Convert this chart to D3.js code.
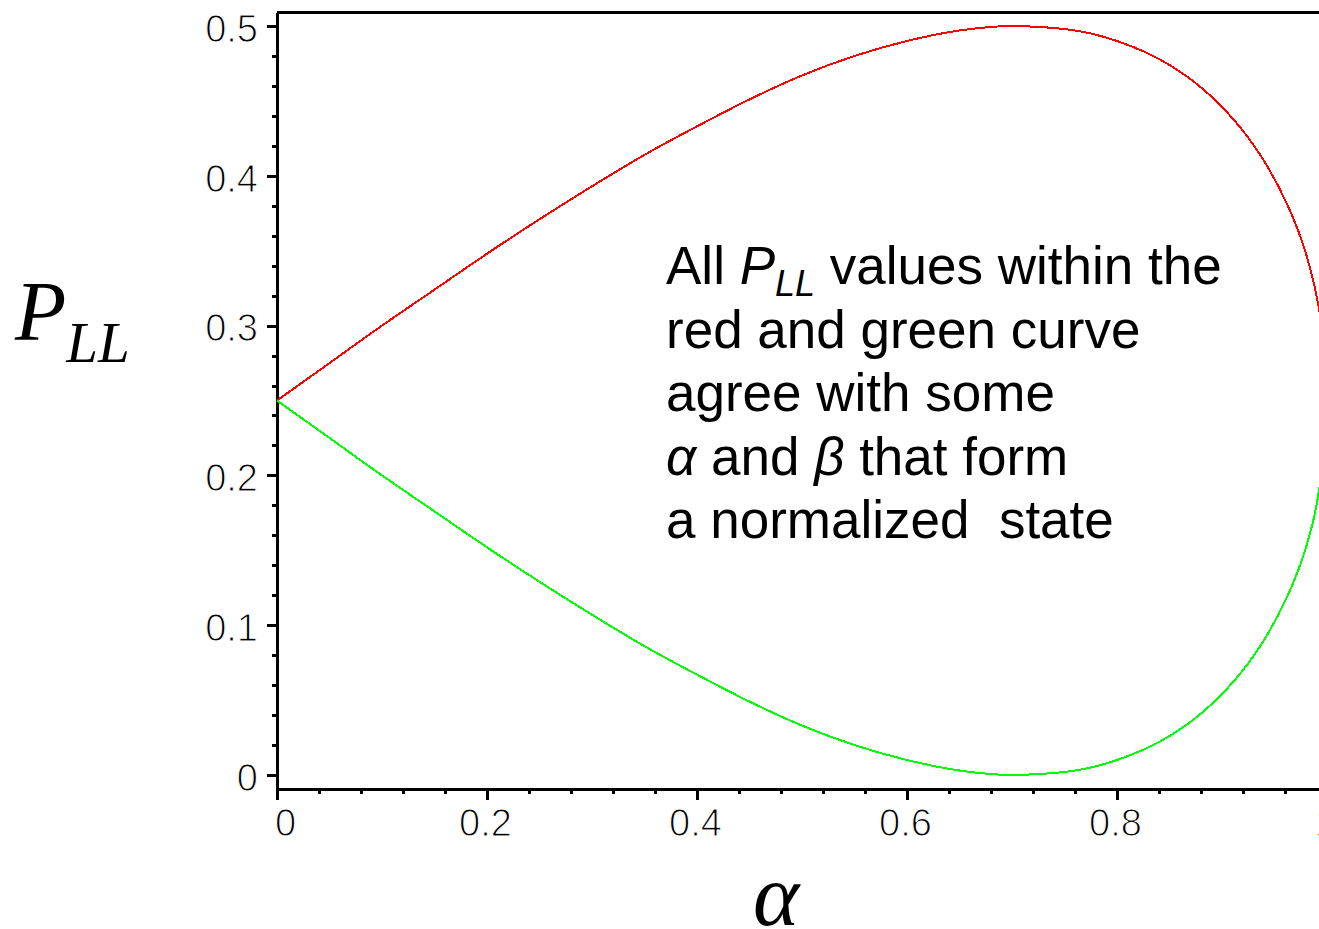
<!DOCTYPE html>
<html lang="en">
<head>
  <meta charset="UTF-8">
  <title>P_LL versus alpha</title>
  <script src="https://cdn.jsdelivr.net/npm/d3@7/dist/d3.min.js"></script>
  <style>
    body { margin: 0; background: #fff; }
    svg { display: block; }
    .axis path { display: none; }
    .axis line {
      stroke: black;
      stroke-width: 3;
      shape-rendering: crispEdges;
    }
    .axis text {
      font-family: "Liberation Sans", Arial, sans-serif;
      font-size: 38px;
      fill: black;
      stroke: white;
      stroke-width: 1.1px;
    }
    .frame {
      stroke: black;
      stroke-width: 3;
      shape-rendering: crispEdges;
    }
    .curve {
      fill: none;
      stroke-width: 2;
      shape-rendering: crispEdges;
    }
    .note {
      font-family: "Liberation Sans", Arial, sans-serif;
      font-size: 53px;
      fill: black;
      white-space: pre;
    }
    .title {
      font-family: "Liberation Serif", "Times New Roman", serif;
      font-style: italic;
      fill: black;
    }
  </style>
</head>
<body>

<svg width="1319" height="929"></svg>

<script>
  // values
  const alpha = [0, 0.05, 0.1, 0.15, 0.2, 0.25, 0.3, 0.35, 0.4, 0.45, 0.5, 0.55, 0.6, 0.65,
                 0.7, 0.75, 0.8, 0.85, 0.88, 0.9, 0.92, 0.94, 0.96, 0.97, 0.98, 0.99, 0.994];
  const redP = [0.25, 0.275, 0.300, 0.324, 0.348, 0.371, 0.393, 0.414, 0.433, 0.451, 0.467, 0.480, 0.490, 0.497,
                0.500, 0.498, 0.490, 0.474, 0.459, 0.446, 0.430, 0.410, 0.384, 0.368, 0.348, 0.320, 0.305];
  const greenP = [0.25, 0.225, 0.200, 0.176, 0.152, 0.129, 0.107, 0.086, 0.067, 0.049, 0.033, 0.020, 0.010, 0.003,
                  0.000, 0.002, 0.010, 0.026, 0.041, 0.054, 0.070, 0.090, 0.116, 0.132, 0.152, 0.180, 0.197];

  const xTickValues = [0, 0.2, 0.4, 0.6, 0.8, 1];
  const xTickLabels = ['0', '0.2', '0.4', '0.6', '0.8', '1'];
  const yTickValues = [0, 0.1, 0.2, 0.3, 0.4, 0.5];
  const yTickLabels = ['0', '0.1', '0.2', '0.3', '0.4', '0.5'];

  const noteLines = [
    [{t: 'All '}, {t: 'P', i: true}, {t: 'LL', i: true, sub: true}, {t: ' values within the'}],
    [{t: 'red and green curve'}],
    [{t: 'agree with some'}],
    [{t: '\u03b1', i: true}, {t: ' and '}, {t: '\u03b2', i: true}, {t: ' that form'}],
    [{t: 'a normalized  state'}]
  ];

  const svg = d3.select('svg');

  // plot box (right side runs past the picture)
  const x = d3.scaleLinear().domain([0, 1]).range([277, 1327]);
  const y = d3.scaleLinear().domain([0, 0.5]).range([775, 26]);
  const yBottom = y(-0.01);
  const yTop = y(0.509);

  // frame: top line, left line, bottom axis line
  svg.append('line').attr('class', 'frame')
    .attr('x1', x(0)).attr('x2', x(1)).attr('y1', yTop).attr('y2', yTop);
  svg.append('line').attr('class', 'frame')
    .attr('x1', x(0)).attr('x2', x(0)).attr('y1', yTop).attr('y2', yBottom);
  svg.append('line').attr('class', 'frame')
    .attr('x1', x(0)).attr('x2', x(1)).attr('y1', yBottom).attr('y2', yBottom);

  // y axis: minor then major ticks
  svg.append('g')
    .attr('class', 'axis')
    .attr('transform', `translate(${x(0)},0)`)
    .call(d3.axisLeft(y).tickValues(d3.range(0.02, 0.5, 0.02)).tickSize(5).tickFormat(''));
  const gY = svg.append('g')
    .attr('class', 'axis')
    .attr('transform', `translate(${x(0)},0)`)
    .call(d3.axisLeft(y).tickValues(yTickValues).tickSize(10).tickPadding(9)
      .tickFormat((d, i) => yTickLabels[i]));
  gY.attr('font-size', null).attr('font-family', null);
  gY.selectAll('.tick text').attr('dy', '0.4em');

  // x axis: minor then major ticks
  svg.append('g')
    .attr('class', 'axis')
    .attr('transform', `translate(0,${yBottom})`)
    .call(d3.axisBottom(x).tickValues(d3.range(0.04, 1, 0.04)).tickSize(4).tickFormat(''));
  const gX = svg.append('g')
    .attr('class', 'axis')
    .attr('transform', `translate(0,${yBottom})`)
    .call(d3.axisBottom(x).tickValues(xTickValues).tickSize(10).tickPadding(9)
      .tickFormat((d, i) => xTickLabels[i]));
  gX.attr('font-size', null).attr('font-family', null);
  gX.selectAll('.tick text').attr('dx', d => d === 0 ? 8 : -2);

  // curves
  const line = d3.line()
    .x((d, i) => x(alpha[i]))
    .y(d => y(d))
    .curve(d3.curveMonotoneX);

  svg.append('path').attr('class', 'curve').attr('stroke', '#ff0000').attr('d', line(redP));
  svg.append('path').attr('class', 'curve').attr('stroke', '#00ff00').attr('d', line(greenP));

  // annotation
  const note = svg.append('text').attr('class', 'note');
  noteLines.forEach((parts, li) => {
    parts.forEach((p, pi) => {
      const ts = note.append('tspan').text(p.t);
      if (pi === 0) ts.attr('x', 666).attr('y', 284 + li * 63.5);
      if (p.i) ts.attr('font-style', 'italic');
      if (p.sub) ts.attr('font-size', 36).attr('dy', 12);
      if (pi > 0 && parts[pi - 1].sub) ts.attr('dy', -12);
    });
  });

  // axis titles
  const yTitle = svg.append('text').attr('class', 'title').attr('x', 15).attr('y', 340);
  yTitle.append('tspan').attr('font-size', 84).text('P');
  yTitle.append('tspan').attr('font-size', 57).attr('dy', 22).text('LL');

  svg.append('text').attr('class', 'title')
    .attr('x', 776).attr('y', 925)
    .attr('text-anchor', 'middle')
    .attr('font-size', 88)
    .text('\u03b1');
</script>

</body>
</html>
